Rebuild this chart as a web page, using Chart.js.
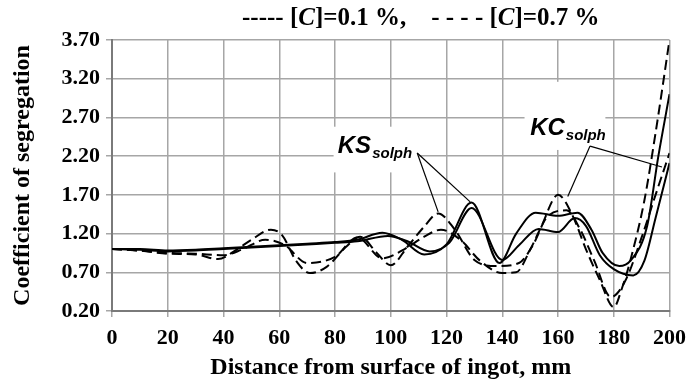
<!DOCTYPE html>
<html>
<head>
<meta charset="utf-8">
<script src="https://cdn.jsdelivr.net/npm/chart.js@4.4.0/dist/chart.umd.min.js"></script>
<style>
  html, body { margin: 0; padding: 0; background: #fff; }
  #wrap { position: relative; width: 694px; height: 382px; }
</style>
</head>
<body>
<div id="wrap"><canvas id="segregation-chart"></canvas></div>
<script>
(function () {
    "use strict";

    // KS solph, [C]=0.1 % (solid)
    const xKS01 = [0, 10, 20, 30, 40, 50, 60, 70, 80, 88, 97, 104, 112, 120, 129, 139, 145, 152, 160, 167, 172, 176, 182, 186, 192, 196, 200];
    const yKS01 = [1.00, 1.00, 0.98, 0.99, 1.01, 1.03, 1.05, 1.07, 1.09, 1.12, 1.21, 1.12, 0.93, 1.06, 1.60, 0.82, 1.20, 1.47, 1.43, 1.47, 1.25, 0.95, 0.78, 0.85, 1.30, 2.20, 3.00];

    // KC solph, [C]=0.1 % (solid)
    const xKC01 = [0, 10, 20, 30, 40, 50, 60, 70, 80, 88, 99, 106, 114, 121, 129, 140, 146, 153, 160, 166, 170, 175, 180, 187, 191, 195, 200];
    const yKC01 = [1.00, 0.99, 0.97, 0.98, 1.00, 1.02, 1.04, 1.06, 1.08, 1.10, 1.17, 1.10, 0.97, 1.08, 1.53, 0.86, 1.05, 1.26, 1.22, 1.40, 1.30, 0.92, 0.74, 0.66, 0.85, 1.40, 2.11];

    // KS solph, [C]=0.7 % (dashed)
    const xKS07 = [0, 10, 20, 30, 38, 45, 50, 57, 61, 66, 71, 77, 84, 89, 95, 100, 106, 112, 117, 123, 130, 138, 146, 151, 156, 163, 168, 173, 179, 184, 190, 195, 200];
    const yKS07 = [1.00, 0.98, 0.94, 0.93, 0.87, 1.00, 1.12, 1.25, 1.18, 0.85, 0.69, 0.77, 1.03, 1.16, 0.95, 0.79, 1.03, 1.29, 1.46, 1.25, 0.86, 0.78, 0.82, 1.05, 1.41, 1.50, 1.25, 0.85, 0.38, 0.58, 1.15, 1.70, 2.24];

    // KC solph, [C]=0.7 % (dashed)
    const xKC07 = [0, 10, 20, 30, 40, 47, 55, 62, 70, 80, 88, 97, 105, 112, 118, 125, 132, 140, 145, 150, 154, 160, 165, 170, 175, 180, 183, 186, 191, 195, 200];
    const yKC07 = [1.00, 0.98, 0.95, 0.94, 0.92, 1.00, 1.12, 1.05, 0.82, 0.90, 1.15, 0.88, 1.00, 1.16, 1.25, 1.12, 0.85, 0.69, 0.70, 0.99, 1.29, 1.70, 1.45, 1.00, 0.60, 0.25, 0.50, 0.86, 1.63, 2.50, 3.70];

    const xTicks = [0, 20, 40, 60, 80, 100, 120, 140, 160, 180, 200];
    const yTicks = [0.2, 0.7, 1.2, 1.7, 2.2, 2.7, 3.2, 3.7];

    const serif = "'Liberation Serif', 'Times New Roman', serif";
    const sans = "'Liberation Sans', Arial, sans-serif";

    // label boxes and leader lines, in data units
    const notes = [
        { main: "KS", sub: "solph", at: [81, 2.24], box: [79.5, 110, 2.58, 1.99], from: [109.5, 2.24], to: [[117, 1.48], [128.5, 1.61]] },
        { main: "KC", sub: "solph", at: [150, 2.47], box: [148, 177, 3.16, 2.28], from: [171.5, 2.33], to: [[163.5, 1.68], [197.3, 2.06]] },
    ];

    const pts = (xs, ys) => xs.map((x, i) => ({ x: x, y: ys[i] }));

    const line = (label, xs, ys, dash) => ({
        label: label,
        data: pts(xs, ys),
        borderColor: "#000",
        borderWidth: 2,
        borderDash: dash,
        pointRadius: 0,
        fill: false,
        cubicInterpolationMode: "monotone",
    });

    const notesPlugin = {
        id: "notes",
        beforeDatasetsDraw(chart) {
            const { ctx, scales: { x, y } } = chart;
            ctx.save();
            notes.forEach((n) => {
                const x0 = x.getPixelForValue(n.box[0]);
                const x1 = x.getPixelForValue(n.box[1]);
                const y0 = y.getPixelForValue(n.box[2]);
                const y1 = y.getPixelForValue(n.box[3]);
                ctx.fillStyle = "#fff";
                ctx.fillRect(x0, y0, x1 - x0, y1 - y0);
                const px = x.getPixelForValue(n.at[0]);
                const py = y.getPixelForValue(n.at[1]);
                ctx.fillStyle = "#000";
                ctx.textBaseline = "alphabetic";
                ctx.textAlign = "left";
                ctx.font = "italic bold 24px " + sans;
                ctx.fillText(n.main, px, py);
                const w = ctx.measureText(n.main).width;
                ctx.font = "italic bold 15px " + sans;
                ctx.fillText(n.sub, px + w + 1, py + 5);
            });
            ctx.restore();
        },
        afterDatasetsDraw(chart) {
            const { ctx, scales: { x, y } } = chart;
            ctx.save();
            ctx.strokeStyle = "#000";
            ctx.lineWidth = 1.2;
            notes.forEach((n) => {
                const fx = x.getPixelForValue(n.from[0]);
                const fy = y.getPixelForValue(n.from[1]);
                n.to.forEach((t) => {
                    ctx.beginPath();
                    ctx.moveTo(fx, fy);
                    ctx.lineTo(x.getPixelForValue(t[0]), y.getPixelForValue(t[1]));
                    ctx.stroke();
                });
            });
            ctx.restore();
        },
        afterDraw(chart) {
            // top legend, typed like the original caption
            const ctx = chart.ctx;
            const parts = [
                ["----- [", false], ["C", true], ["]=0.1 %,", false],
                ["    - - - - [", false], ["C", true], ["]=0.7 %", false],
            ];
            ctx.save();
            ctx.fillStyle = "#000";
            ctx.textBaseline = "alphabetic";
            ctx.textAlign = "left";
            let cx = 242;
            parts.forEach((p) => {
                ctx.font = (p[1] ? "italic bold " : "bold ") + "25px " + serif;
                ctx.fillText(p[0], cx, 25);
                cx += ctx.measureText(p[0]).width;
            });
            ctx.restore();
        },
    };

    const gridColor = "#a6a6a6";

    new Chart(document.getElementById("segregation-chart"), {
        type: "line",
        data: {
            datasets: [
                line("KS solph, [C]=0.1 %", xKS01, yKS01, []),
                line("KC solph, [C]=0.1 %", xKC01, yKC01, []),
                line("KS solph, [C]=0.7 %", xKS07, yKS07, [10, 5]),
                line("KC solph, [C]=0.7 %", xKC07, yKC07, [10, 5]),
            ],
        },
        options: {
            responsive: true,
            maintainAspectRatio: false,
            animation: false,
            layout: { padding: { top: 40, right: 18, left: 0, bottom: 0 } },
            plugins: {
                legend: { display: false },
                tooltip: { enabled: false },
            },
            scales: {
                x: {
                    type: "linear",
                    min: 0,
                    max: 200,
                    afterBuildTicks: (s) => { s.ticks = xTicks.map((v) => ({ value: v })); },
                    afterFit: (s) => { s.height = 71; },
                    ticks: {
                        color: "#000",
                        padding: 8,
                        maxRotation: 0,
                        font: { family: serif, size: 22, weight: "bold" },
                    },
                    grid: { color: gridColor, lineWidth: 1.5, tickLength: 6 },
                    border: { color: "#7a7a7a", width: 2 },
                    title: {
                        display: true,
                        text: "Distance from surface of ingot, mm",
                        color: "#000",
                        padding: { top: 0, bottom: 0 },
                        font: { family: serif, size: 24, weight: "bold" },
                    },
                },
                y: {
                    type: "linear",
                    min: 0.2,
                    max: 3.7,
                    afterBuildTicks: (s) => { s.ticks = yTicks.map((v) => ({ value: v })); },
                    afterFit: (s) => { s.width = 112; },
                    ticks: {
                        color: "#000",
                        padding: 6,
                        callback: (v) => Number(v).toFixed(2),
                        font: { family: serif, size: 22, weight: "bold" },
                    },
                    grid: { color: gridColor, lineWidth: 1.5, tickLength: 6 },
                    border: { color: "#7a7a7a", width: 2 },
                    title: {
                        display: true,
                        text: "Coefficient of segregation",
                        color: "#000",
                        padding: { top: 8, bottom: 0 },
                        font: { family: serif, size: 24, weight: "bold" },
                    },
                },
            },
        },
        plugins: [notesPlugin],
    });
})();
</script>
</body>
</html>
